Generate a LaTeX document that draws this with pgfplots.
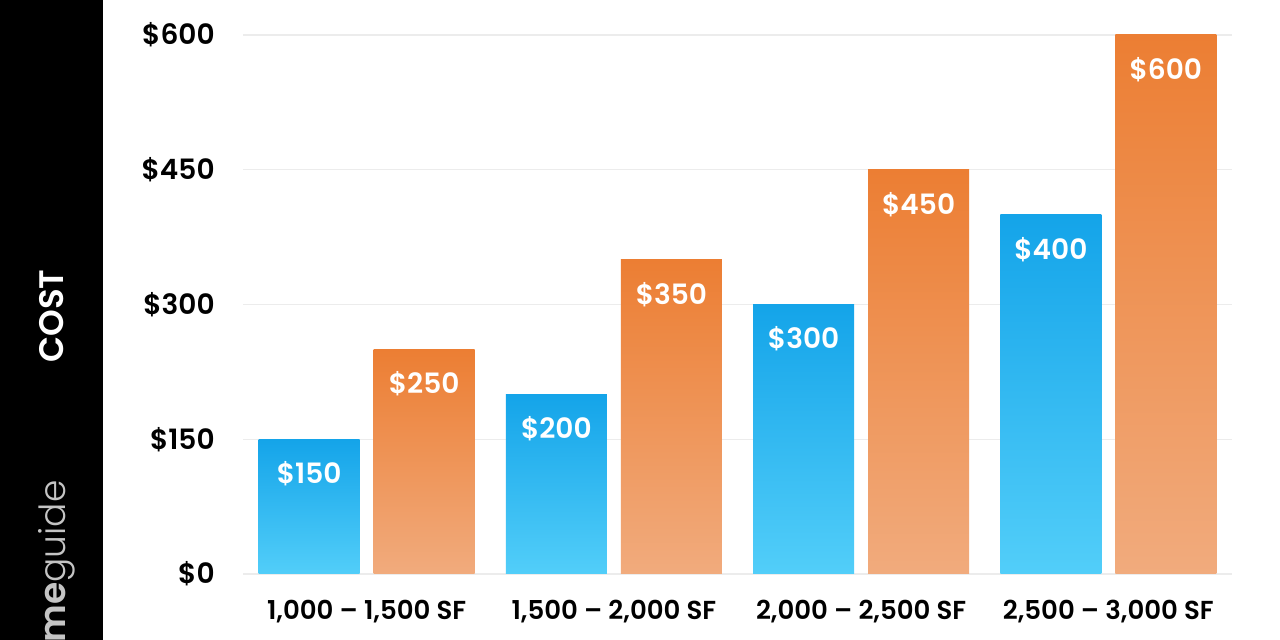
\documentclass[border=0pt]{standalone}
\usepackage{fontspec}
\setmainfont{Poppins}[BoldFont={Poppins SemiBold}]
\newfontfamily\lightfont{Poppins Light}
\usepackage{pgfplots}
\pgfplotsset{compat=1.18}

\definecolor{blueTop}{HTML}{14A4E9}
\definecolor{blueBot}{HTML}{52CEF9}
\definecolor{orangeTop}{HTML}{EC7E33}
\definecolor{orangeBot}{HTML}{F1AB7D}
\definecolor{gridGray}{HTML}{ECECEC}
\definecolor{logoGray}{HTML}{C4C4C4}

\pgfplotsset{
  costbar/.style={
    ybar, bar width=50.5pt, draw=none, shading=axis,
    nodes near coords={\$\pgfmathprintnumber[assume math mode=true]{\pgfplotspointmeta}},
    every node near coord/.append style={
      text=white, anchor=north, inner sep=0pt, yshift=-11pt,
      font=\bfseries\fontsize{14}{16}\selectfont},
  },
  small/.style={costbar, bar shift=-28.75pt, top color=blueTop, bottom color=blueBot,
    every node near coord/.append style={xshift=-28.75pt}},
  large/.style={costbar, bar shift=28.75pt, top color=orangeTop, bottom color=orangeBot,
    every node near coord/.append style={xshift=28.75pt}},
}

\begin{document}
\begin{tikzpicture}[x=1pt,y=1pt]
  \fill[white] (0,0) rectangle (640,320);
  \fill[black] (0,0) rectangle (51.5,320);
  \begin{scope}
    \clip (0,0) rectangle (51.5,320);
    \node[rotate=90, anchor=base east, inner sep=0pt, text=logoGray,
          font=\fontsize{18}{22}\selectfont] at (32.5,80)
          {\textbf{home}{\lightfont guide}};
  \end{scope}
  \node[rotate=90, text=white, font=\bfseries\fontsize{17}{20}\selectfont] at (26,162) {COST};

  \begin{axis}[
    at={(121.5pt,33pt)}, anchor=south west,
    scale only axis, width=494.5pt, height=269.5pt,
    xmin=-0.5, xmax=3.5, ymin=0, ymax=600,
    axis line style={draw=none},
    major tick length=0pt,
    ymajorgrids, grid style={gridGray, line width=0.6pt},
    ytick={0,150,300,450,600},
    yticklabels={\$0,\$150,\$300,\$450,\$600},
    xtick={0,1,2,3},
    xticklabels={{1,000 – 1,500 SF},{1,500 – 2,000 SF},{2,000 – 2,500 SF},{2,500 – 3,000 SF}},
    yticklabel style={font=\bfseries\fontsize{14}{16}\selectfont, inner sep=0pt, anchor=east, xshift=-14pt},
    xticklabel style={font=\bfseries\fontsize{13}{16}\selectfont, inner sep=0pt, anchor=north, yshift=-13pt},
  ]
    % 1,000 - 1,500 SF
    \addplot[small] coordinates {(0,150)};
    \addplot[large] coordinates {(0,250)};
    % 1,500 - 2,000 SF
    \addplot[small] coordinates {(1,200)};
    \addplot[large] coordinates {(1,350)};
    % 2,000 - 2,500 SF
    \addplot[small] coordinates {(2,300)};
    \addplot[large] coordinates {(2,450)};
    % 2,500 - 3,000 SF
    \addplot[small] coordinates {(3,400)};
    \addplot[large] coordinates {(3,600)};
  \end{axis}
  \useasboundingbox (0,0) rectangle (640,320);
\end{tikzpicture}
\end{document}
